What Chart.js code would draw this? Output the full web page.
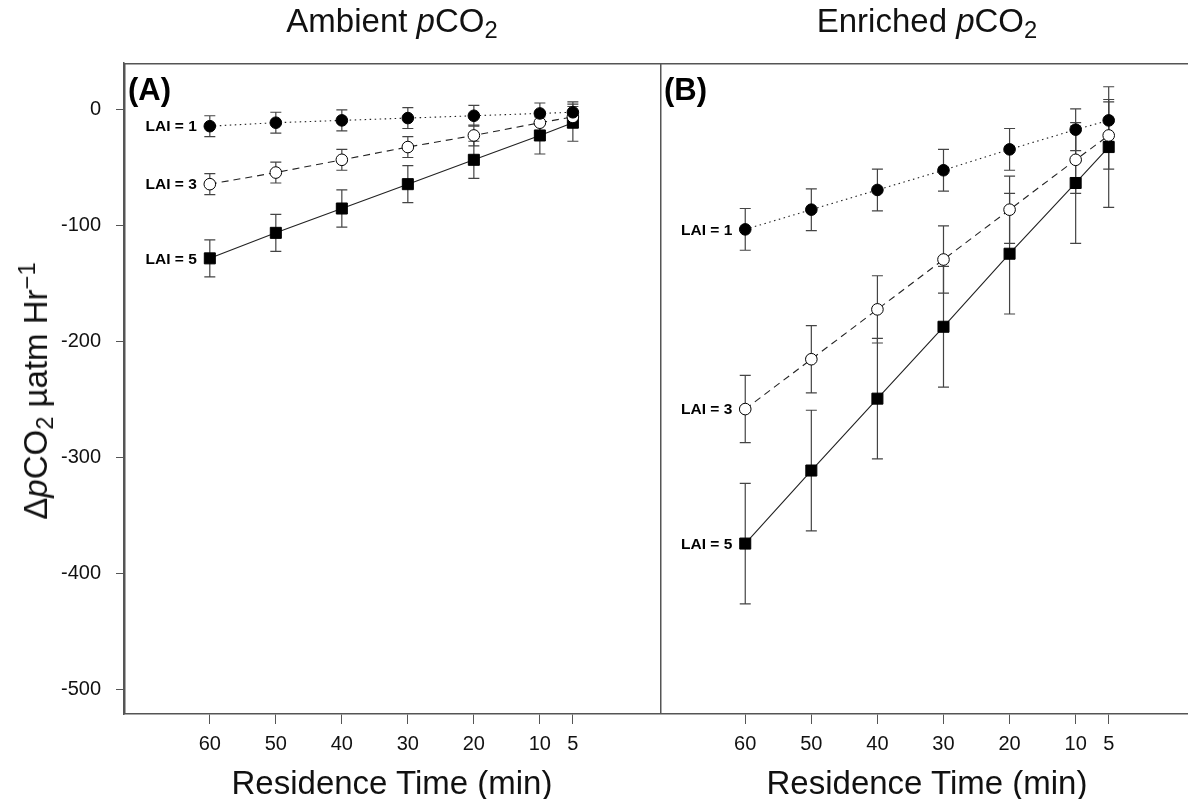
<!DOCTYPE html>
<html>
<head>
<meta charset="utf-8">
<script src="https://cdn.jsdelivr.net/npm/chart.js@4.4.1/dist/chart.umd.min.js"></script>
<style>
  body { margin: 0; background: #fff; }
  #wrap {
    position: relative; width: 1188px; height: 799px; overflow: hidden;
    font-family: "Liberation Sans", Arial, sans-serif; color: #111;
  }
  canvas { position: absolute; top: 0; }
  #chartA { left: 0; }
  #chartB { left: 660px; }
  .txt {
    position: absolute; font-size: 33px; line-height: 33px;
    white-space: nowrap; text-align: center;
  }
  .sub { font-size: 0.72em; position: relative; top: 0.24em; }
  .sup { font-size: 0.72em; position: relative; top: -0.5em; }
  #ytitle {
    left: 37px; top: 391px;
    transform: translate(-50%, -50%) rotate(-90deg);
  }
</style>
</head>
<body>
<div id="wrap">
  <canvas id="chartA" width="660" height="799"></canvas>
  <canvas id="chartB" width="528" height="799"></canvas>
  <div class="txt" style="left:124px;width:536px;top:4px">Ambient <i>p</i>CO<span class="sub">2</span></div>
  <div class="txt" style="left:660px;width:534px;top:4px">Enriched <i>p</i>CO<span class="sub">2</span></div>
  <div class="txt" style="left:124px;width:536px;top:766px">Residence Time (min)</div>
  <div class="txt" style="left:660px;width:534px;top:766px">Residence Time (min)</div>
  <div class="txt" id="ytitle">&Delta;<i>p</i>CO<span class="sub">2</span> &micro;atm Hr<span class="sup">&minus;1</span></div>
</div>
<script>
// residence time (min) on the x axis, shown reversed
const residenceTimes = [60, 50, 40, 30, 20, 10, 5];
const xTickValues = [60, 50, 40, 30, 20, 10, 5];
const yTickValues = [0, -100, -200, -300, -400, -500];
const laiLabels = ["LAI = 1", "LAI = 3", "LAI = 5"];

// panel A, ambient pCO2
const ambientLai1 = [-14, -11, -9, -7, -5, -3, -2];
const ambientLai3 = [-64, -54, -43, -32, -22, -11, -6];
const ambientLai5 = [-128, -106, -85, -64, -43, -22, -11];
const ambientErrLai1 = [9, 9, 9, 9, 9, 9, 9];
const ambientErrLai3 = [9, 9, 9, 9, 9, 9, 9];
const ambientErrLai5 = [16, 16, 16, 16, 16, 16, 16];

// panel B, enriched pCO2
const enrichedLai1 = [-103, -86, -69, -52, -34, -17, -9];
const enrichedLai3 = [-258, -215, -172, -129, -86, -43, -22];
const enrichedLai5 = [-374, -311, -249, -187, -124, -63, -32];
const enrichedErrLai1 = [18, 18, 18, 18, 18, 18, 18];
const enrichedErrLai3 = [29, 29, 29, 29, 29, 29, 29];
const enrichedErrLai5 = [52, 52, 52, 52, 52, 52, 52];

const FONT = '"Liberation Sans", Arial, sans-serif';

const seriesStyles = [
    { pointStyle: "circle", pointRadius: 5.8, pointBackgroundColor: "#000", borderDash: [1.5, 3.5] },
    { pointStyle: "circle", pointRadius: 5.8, pointBackgroundColor: "#fff", borderDash: [7, 5] },
    { pointStyle: "rect", pointRadius: 7.8, pointBackgroundColor: "#000", borderDash: [] },
];

function makeDatasets(series, errors) {
    return laiLabels.map((label, k) => ({
        label,
        data: residenceTimes.map((t, i) => ({ x: t, y: series[k][i] })),
        errors: errors[k],
        borderColor: "#222",
        borderWidth: 1.1,
        pointBorderColor: "#000",
        pointBorderWidth: 1,
        ...seriesStyles[k],
    }));
}

// vertical error bars with caps, drawn under the markers
const errorBars = {
    id: "errorBars",
    beforeDatasetsDraw(chart) {
        const { ctx, scales: { x, y } } = chart;
        ctx.save();
        ctx.strokeStyle = "#444";
        ctx.lineWidth = 1.2;
        chart.data.datasets.forEach((ds) => {
            ds.data.forEach((p, i) => {
                const px = x.getPixelForValue(p.x);
                const top = y.getPixelForValue(p.y + ds.errors[i]);
                const bot = y.getPixelForValue(p.y - ds.errors[i]);
                ctx.beginPath();
                ctx.moveTo(px, top);
                ctx.lineTo(px, bot);
                ctx.moveTo(px - 5.5, top);
                ctx.lineTo(px + 5.5, top);
                ctx.moveTo(px - 5.5, bot);
                ctx.lineTo(px + 5.5, bot);
                ctx.stroke();
            });
        });
        ctx.restore();
    },
};

// frame, panel letter and LAI labels
const panelDecor = {
    id: "panelDecor",
    afterDatasetsDraw(chart, args, opts) {
        const { ctx, chartArea: a, scales: { x, y } } = chart;
        ctx.save();
        ctx.strokeStyle = "#555";
        ctx.lineWidth = 1.5;
        ctx.beginPath();
        ctx.moveTo(a.left + 0.75, a.bottom);
        ctx.lineTo(a.left + 0.75, a.top + 0.75);
        ctx.lineTo(a.right, a.top + 0.75);
        ctx.stroke();

        ctx.fillStyle = "#000";
        ctx.font = "bold 31px " + FONT;
        ctx.textAlign = "left";
        ctx.textBaseline = "alphabetic";
        ctx.fillText(opts.letter, a.left + 4, a.top + 37);

        ctx.font = "bold 15.5px " + FONT;
        ctx.textAlign = "right";
        ctx.textBaseline = "middle";
        chart.data.datasets.forEach((ds) => {
            const p = ds.data[0];
            ctx.fillText(ds.label, x.getPixelForValue(p.x) - 13, y.getPixelForValue(p.y) + 1);
        });
        ctx.restore();
    },
};

function makeConfig(datasets, letter, xMin, xMax, showY) {
    return {
        type: "line",
        data: { datasets },
        plugins: [errorBars, panelDecor],
        options: {
            responsive: false,
            animation: false,
            layout: { autoPadding: false, padding: { top: 63, left: 0, right: 0, bottom: 0 } },
            plugins: {
                legend: { display: false },
                tooltip: { enabled: false },
                panelDecor: { letter },
            },
            scales: {
                x: {
                    type: "linear",
                    reverse: true,
                    min: xMin,
                    max: xMax,
                    afterBuildTicks: (scale) => {
                        scale.ticks = xTickValues.map((v) => ({ value: v }));
                    },
                    afterFit: (scale) => {
                        scale.height = 85;
                        scale.paddingLeft = 0;
                        scale.paddingRight = 0;
                    },
                    grid: { drawOnChartArea: false, drawTicks: true, tickLength: 10, color: "#555", lineWidth: 1 },
                    border: { display: true, color: "#555", width: 1.5 },
                    ticks: {
                        autoSkip: false,
                        maxRotation: 0,
                        minRotation: 0,
                        padding: 8,
                        color: "#111",
                        font: { family: FONT, size: 20 },
                        callback: (v) => String(v),
                    },
                },
                y: {
                    display: showY,
                    min: -521,
                    max: 40.5,
                    afterBuildTicks: (scale) => {
                        scale.ticks = yTickValues.map((v) => ({ value: v }));
                    },
                    afterFit: (scale) => {
                        scale.width = showY ? 124 : 0;
                        scale.paddingTop = 0;
                        scale.paddingBottom = 0;
                    },
                    grid: { drawOnChartArea: false, drawTicks: true, tickLength: 8, color: "#555", lineWidth: 1 },
                    border: { display: true, color: "#555", width: 1.5 },
                    ticks: {
                        padding: 15,
                        color: "#111",
                        font: { family: FONT, size: 20 },
                        callback: (v) => String(v),
                    },
                },
            },
        },
    };
}

new Chart(
    document.getElementById("chartA"),
    makeConfig(
        makeDatasets([ambientLai1, ambientLai3, ambientLai5], [ambientErrLai1, ambientErrLai3, ambientErrLai5]),
        "(A)", -8.2, 73, true
    )
);

new Chart(
    document.getElementById("chartB"),
    makeConfig(
        makeDatasets([enrichedLai1, enrichedLai3, enrichedLai5], [enrichedErrLai1, enrichedErrLai3, enrichedErrLai5]),
        "(B)", -7.0, 72.9, false
    )
);
</script>
</body>
</html>
